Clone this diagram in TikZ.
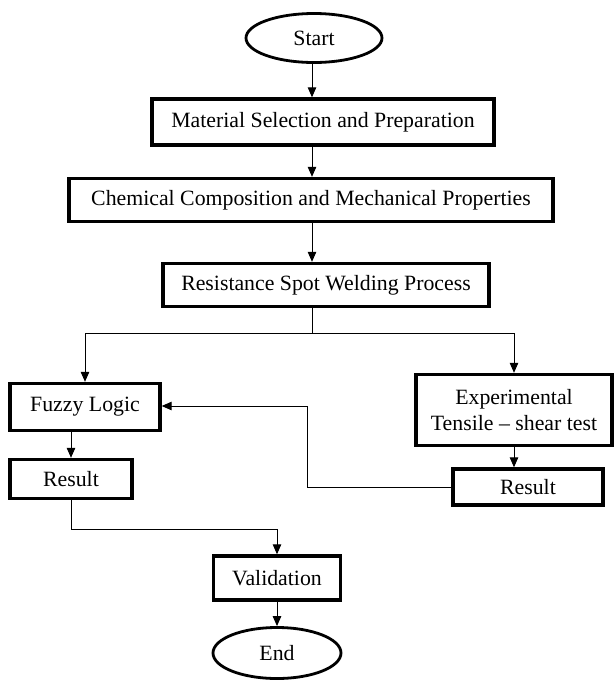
\documentclass[tikz,border=0pt]{standalone}
\usepackage{fontspec}
\setmainfont{Liberation Serif}
\usetikzlibrary{arrows.meta,shapes.geometric}
\begin{document}
\begin{tikzpicture}[x=1pt,y=-1pt,
  box/.style={draw,line width=3.4pt,inner sep=0pt,align=center},
  term/.style={draw,ellipse,line width=2.8pt,inner sep=0pt},
  arr/.style={-{Triangle[length=10pt,width=8.5pt]},line width=1pt}]
\useasboundingbox (0,0) rectangle (615,681);
\begin{scope}[font=\fontsize{21.8}{26}\selectfont]
\node [term,minimum width=136,minimum height=49] (start) at (314,38) {Start};
\node [box,minimum width=342,minimum height=46] (matsel) at (323,122) {Material Selection and Preparation};
\node [box,minimum width=484,minimum height=43] (chem) at (311,200) {Chemical Composition and Mechanical Properties};
\node [box,minimum width=326,minimum height=43] (rsw) at (326,285) {Resistance Spot Welding Process};
\node [box,minimum width=150,minimum height=47] (fuzzy) at (85,407) {Fuzzy Logic};
\node [box,minimum width=196,minimum height=71] (exper) at (514,410) {Experimental\\Tensile -- shear test};
\node [box,minimum width=122,minimum height=39] (resfl) at (71,479) {Result};
\node [box,minimum width=150,minimum height=36] (resex) at (528,487) {Result};
\node [box,minimum width=127,minimum height=44] (valid) at (277,578) {Validation};
\node [term,minimum width=128,minimum height=51] (finish) at (277,653) {End};
\end{scope}
\coordinate (split) at (312,333);
\coordinate (bend) at (307,406);
\coordinate (join) at (277,529);
\draw [arr] (start.south -| split) -- (split |- matsel.north);
\draw [arr] (split |- matsel.south) -- (split |- chem.north);
\draw [arr] (split |- chem.south) -- (split |- rsw.north);
\draw [line width=1pt] (split |- rsw.south) -- (split);
\draw [arr] (split) -| (fuzzy);
\draw [arr] (split) -| (exper);
\draw [arr] (fuzzy.south -| resfl) -- (resfl);
\draw [arr] (exper) -- (exper |- resex.north);
\draw [arr] (resex.west) -| (bend) -- (fuzzy.east |- bend);
\draw [arr] (resfl) |- (join) -- (valid);
\draw [arr] (valid) -- (finish);
\end{tikzpicture}
\end{document}
